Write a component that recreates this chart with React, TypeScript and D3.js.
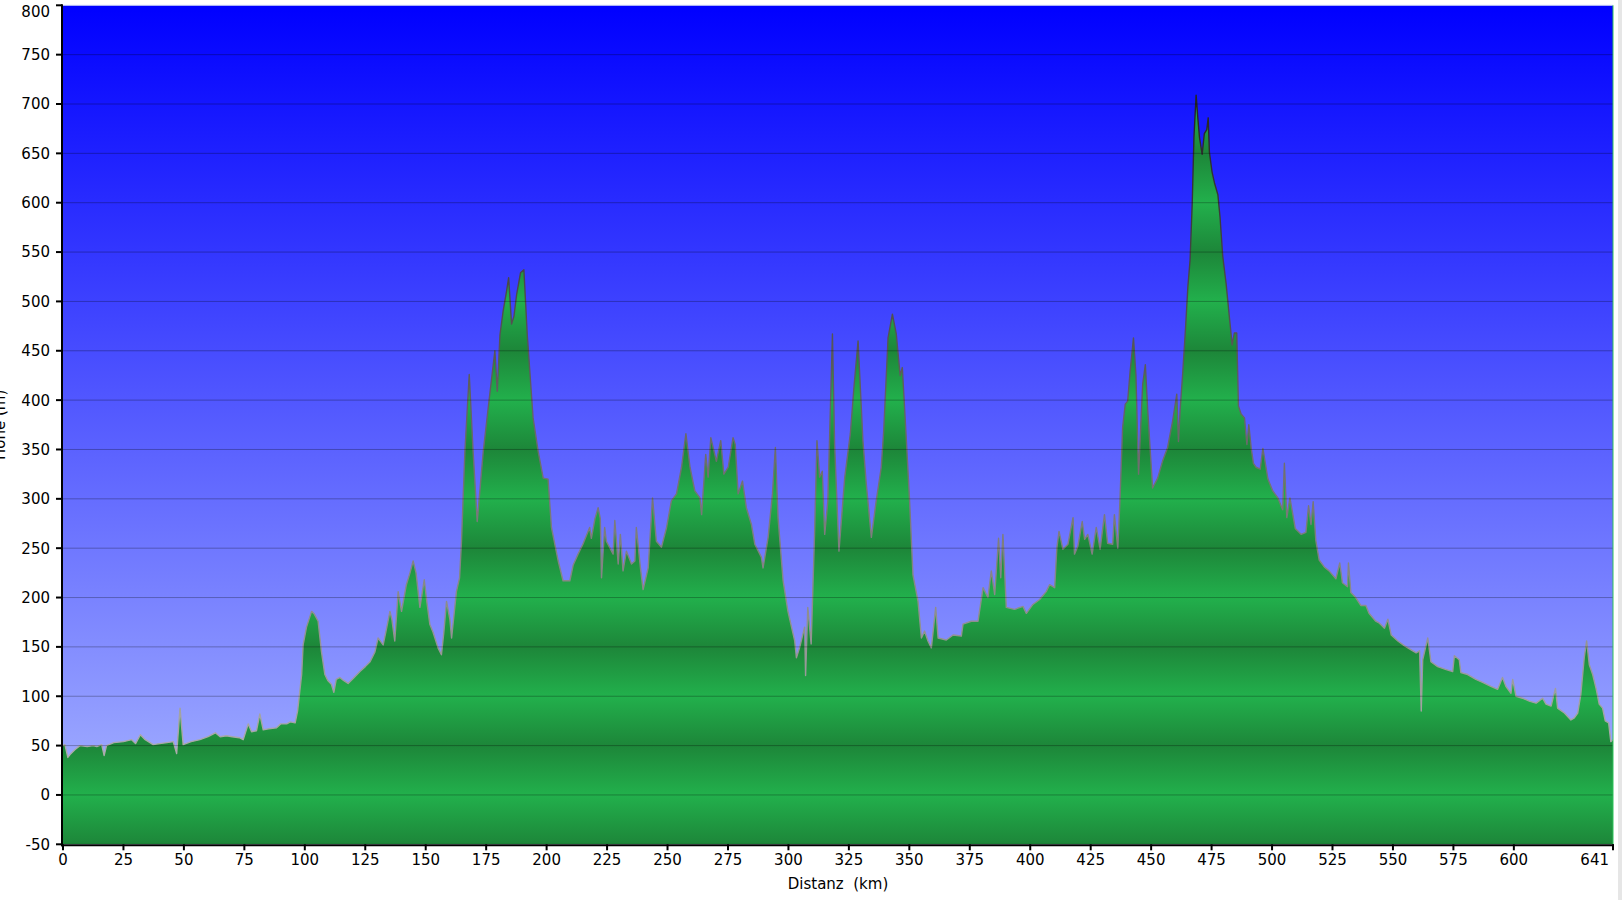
import React from "react";
import * as d3 from "d3";

const km: number[] = [
  0, 0.8, 2, 2.9, 5, 7, 10, 12.5, 14, 16, 17, 18, 21, 25, 28.4, 30, 32, 34, 37.3, 40, 43, 45.6, 47, 48.4, 49.7,
  53, 56.6, 60, 63, 65, 67.6, 70, 73, 74.5, 76.6, 78, 80, 81.4, 82.8, 85, 88.3, 90, 92.5, 94, 96, 97, 98.7, 99.3,
  100.7, 102.8, 104, 105.5, 106.9, 108.3, 109.5, 111, 112, 113, 114.5, 116, 117.9, 120, 122.8, 125, 127, 129, 130.3,
  132.4, 133.5, 135.2, 136, 137.2, 138.6, 140, 142, 143.5, 144.8, 146, 147.6, 149.4, 150.5, 151.7, 153, 155.1, 156.5,
  157.5, 158.6, 160, 160.7, 162.7, 164, 164.8, 166.2, 168, 169.6, 171.3, 173.8, 176.5, 178.6, 179.6, 180.7, 182,
  183.4, 184.3, 185.5, 186.5, 187.6, 189.2, 190.6, 192, 194.4, 196.5, 198.6, 200.6, 202, 204.8, 206.8, 209.6, 211,
  213, 215, 217.8, 218.5, 220, 221.3, 222.2, 222.7, 224, 224.7, 227.5, 228.2, 229.6, 230.5, 231.6, 233, 235.1, 236.5,
  237.1, 238.8, 239.9, 242, 243.8, 245.4, 247.5, 249.6, 251.6, 253.7, 255.8, 257.6, 259.3, 261.3, 263.4, 264.1,
  265.8, 266.8, 267.9, 270.2, 272, 273.3, 275.1, 277.1, 278, 279.2, 281, 282.6, 284.7, 286.1, 288.8, 289.5, 291.6,
  293.4, 294.6, 295.7, 297.8, 299.8, 302.6, 303.3, 304.6, 306.7, 307.1, 308, 309.4, 310.8, 311.8, 312.9, 314, 315,
  316.3, 318.2, 319.1, 320.9, 323.3, 325.6, 327.1, 328.8, 330.8, 332.2, 334.3, 336.3, 338.4, 339.4, 341.2, 343,
  344.6, 346.2, 347.1, 348.8, 350.1, 351.5, 353.6, 355, 356.3, 357.7, 359.1, 360.9, 361.9, 365.3, 368.1, 371.5,
  372.2, 375.6, 378.4, 380.5, 382.5, 383.9, 385.3, 386.9, 387.8, 388.7, 390.1, 393.5, 397, 398.4, 401.1, 403.9,
  406.6, 408, 410.1, 411, 411.9, 413.5, 415.6, 417.7, 418.3, 419.7, 421.5, 422.5, 423.8, 425.6, 427.3, 428.9, 430.7,
  432, 434.1, 434.8, 436.2, 437.1, 438.2, 439.3, 440.3, 441.3, 442.7, 443.7, 444.8, 446.5, 447.6, 448.6, 450.6,
  452.7, 454.7, 456.8, 458.9, 460.6, 461.3, 462, 463.1, 464.2, 465.2, 466.1, 467, 467.7, 468.6, 469.3, 470, 471.1,
  472, 473, 473.6, 474.1, 475.2, 476.2, 477.6, 478.5, 479.6, 481, 482.4, 483.5, 484.4, 485.4, 486.1, 487.2, 488.6,
  489.6, 490.4, 491.4, 492.3, 493.4, 495.1, 496.2, 498.3, 500.3, 502.4, 504.4, 505.1, 506.1, 507.4, 509.6, 512, 514,
  515.1, 516.1, 517, 518.1, 519.5, 521.6, 523.6, 525, 526.4, 528, 529.1, 531.2, 531.6, 532.6, 534.6, 536.7, 538.8,
  540.1, 542.9, 544.4, 546.5, 547.9, 549.3, 552, 554.8, 557.5, 559.6, 561, 561.7, 562.3, 564.4, 565.7, 568.5, 572,
  574.7, 575.4, 577.4, 578.1, 580.9, 584.3, 587.1, 590.5, 593.3, 595.3, 596.7, 598.8, 599.5, 600.9, 603.6, 606.4,
  609.2, 611.9, 613.3, 615.4, 617.2, 618.1, 620.9, 623.6, 625, 626.4, 627.7, 629.1, 630.1, 631.2, 632.6, 634, 635.3,
  636.7, 637.8, 639.2, 640.1, 641,
];

const elevation: number[] = [
  50, 51, 38, 41, 46, 50, 49, 50, 49, 51, 40, 50, 53, 54, 56, 52, 61, 56, 51, 52, 53, 54, 42, 88, 51,
  54, 56, 59, 63, 59, 60, 59, 58, 56, 72, 64, 65, 82, 66, 67, 68, 72, 72, 74, 73, 85, 122, 152,
  170, 186, 183, 176, 145, 122, 116, 112, 104, 117, 119, 116, 113, 118, 125, 130, 135, 145, 159,
  152, 165, 186, 178, 156, 206, 186, 213, 225, 237, 225, 190, 218, 195, 173, 165, 149, 142,
  165, 196, 178, 159, 206, 220, 257, 348, 426, 348, 277, 348, 406, 450, 409, 466, 490,
  510, 524, 477, 485, 507, 529, 532, 466, 382, 348, 321, 320, 271, 237, 217, 217, 233,
  244, 254, 271, 260, 280, 291, 280, 220, 271, 257, 244, 278, 234, 264, 227, 247, 234, 237,
  271, 230, 208, 230, 301, 257, 251, 271, 298, 305, 332, 366, 332, 308, 301, 284,
  345, 322, 362, 338, 359, 325, 332, 362, 355, 305, 318, 291, 274, 254, 241, 230, 261,
  305, 352, 281, 217, 186, 156, 139, 149, 170, 121, 190, 153, 264, 359, 322, 328, 264,
  298, 467, 355, 247, 322, 366, 413, 460, 359, 315, 261, 298, 332, 369, 463, 487,
  467, 425, 433, 358, 298, 223, 196, 159, 166, 156, 149, 190, 159, 157, 162, 161,
  173, 176, 176, 210, 200, 227, 203, 260, 220, 264, 190, 188, 191, 184, 193, 198,
  206, 213, 210, 250, 267, 249, 254, 281, 244, 252, 277, 259, 264, 244, 271, 249, 284,
  255, 254, 284, 250, 298, 372, 396, 399, 429, 463, 426, 325, 416, 436, 389, 311,
  321, 338, 352, 379, 406, 358, 390, 429, 472, 515, 542, 600, 666, 709, 686, 666, 649,
  670, 674, 686, 651, 631, 620, 608, 585, 546, 518, 483, 456, 468, 468, 394, 386, 382,
  355, 375, 351, 336, 332, 330, 351, 320, 308, 301, 289, 336, 281, 301, 270, 264, 266,
  293, 274, 297, 258, 238, 231, 227, 223, 219, 235, 215, 211, 235, 205, 200, 192, 192,
  184, 176, 174, 169, 178, 162, 156, 151, 147, 144, 146, 85, 137, 159, 135, 130, 127,
  125, 141, 137, 124, 122, 117, 114, 110, 107, 119, 110, 103, 117, 100, 98, 95,
  93, 98, 92, 90, 108, 88, 83, 76, 78, 83, 102, 139, 156, 132, 122, 108, 92,
  88, 75, 73, 54, 56,
];

const yTicks: number[] = [-50, 0, 50, 100, 150, 200, 250, 300, 350, 400, 450, 500, 550, 600, 650, 700, 750, 800];
const xTicks: number[] = [0, 25, 50, 75, 100, 125, 150, 175, 200, 225, 250, 275, 300, 325, 350, 375, 400, 425, 450, 475, 500, 525, 550, 575, 600, 641];
const xTitle = "Distanz  (km)";
const yTitle = "Höhe (m)";

const W = 1622;
const H = 900;
const L = 63;
const R = 1613;
const T = 5.3;
const B = 844.3;
const FONT = "Verdana, 'DejaVu Sans', sans-serif";

export default function App() {
  const x = d3.scaleLinear().domain([0, 641]).range([L, R]);
  const y = d3.scaleLinear().domain([-50, 800]).range([B, T]);
  const data = km.map((k, i) => [k, elevation[i]] as [number, number]);

  const area = d3
    .area<[number, number]>()
    .x((d) => x(d[0]))
    .y0(y(-50))
    .y1((d) => y(d[1]));
  const line = d3
    .line<[number, number]>()
    .x((d) => x(d[0]))
    .y((d) => y(d[1]));

  // green band stops: dark at odd multiples of 50, light at multiples of 100
  const bandStops: { off: number; color: string }[] = [];
  for (let v = 800; v >= -50; v -= 50) {
    const off = (800 - v) / 850;
    const dark = Math.abs(v / 50) % 2 === 1;
    bandStops.push({ off, color: dark ? "#1d8639" : "#22b04c" });
  }

  const lastTick = xTicks[xTicks.length - 1];

  return (
    <svg width={W} height={H} style={{ position: "absolute", left: 0, top: 0, background: "#fff" }}>
      <defs>
        <linearGradient id="bg" gradientUnits="userSpaceOnUse" x1={0} y1={y(800)} x2={0} y2={y(-50)}>
          <stop offset="0" stopColor="#0000ff" />
          <stop offset="1" stopColor="#acb9ff" />
        </linearGradient>
        <linearGradient id="green" gradientUnits="userSpaceOnUse" x1={0} y1={y(800)} x2={0} y2={y(-50)}>
          {bandStops.map((s, i) => (
            <stop key={i} offset={s.off} stopColor={s.color} />
          ))}
        </linearGradient>
        <linearGradient id="edge" gradientUnits="userSpaceOnUse" x1={0} y1={y(750)} x2={0} y2={y(0)}>
          <stop offset="0" stopColor="#1a1a1a" />
          <stop offset="0.5" stopColor="#666" />
          <stop offset="1" stopColor="#b4b4b4" />
        </linearGradient>
        <clipPath id="plotclip">
          <rect x={L} y={T} width={R - L} height={B - T} />
        </clipPath>
      </defs>

      <rect x={L} y={T} width={R - L} height={B - T} fill="url(#bg)" />
      <g clipPath="url(#plotclip)">
        <path d={area(data) || ""} fill="url(#green)" />
        <path d={line(data) || ""} fill="none" stroke="url(#edge)" strokeWidth={1.4} strokeLinejoin="round" />
        {yTicks.map((t) => (
          <line key={t} x1={L} x2={R} y1={y(t)} y2={y(t)} stroke="#000" strokeOpacity={0.28} strokeWidth={1} />
        ))}
      </g>
      <line x1={L} x2={R} y1={T} y2={T} stroke="#c8d0ff" strokeWidth={1} />
      <line x1={R} x2={R} y1={T} y2={B} stroke="#2fc25a" strokeWidth={1} />
      <rect x={1618} y={0} width={4} height={H} fill="#e6e6e6" />

      {/* y axis */}
      <line x1={L - 1} x2={L - 1} y1={T - 1} y2={B + 2} stroke="#000" strokeWidth={2} />
      {yTicks.map((t) => (
        <g key={t}>
          <line x1={L - 7} x2={L - 1} y1={y(t)} y2={y(t)} stroke="#000" strokeWidth={2} />
          <text
            x={50}
            y={t === 800 ? y(t) + 6 : y(t)}
            dy="0.36em"
            textAnchor="end"
            fontFamily={FONT}
            fontSize={15}
            fill="#000"
          >
            {t}
          </text>
        </g>
      ))}
      <text
        transform={`translate(5,${(T + B) / 2}) rotate(-90)`}
        textAnchor="middle"
        fontFamily={FONT}
        fontSize={15}
        fill="#000"
      >
        {yTitle}
      </text>

      {/* x axis */}
      <line x1={L - 2} x2={R + 1} y1={B + 1} y2={B + 1} stroke="#000" strokeWidth={2} />
      {xTicks.map((t) => (
        <g key={t}>
          <line x1={x(t)} x2={x(t)} y1={B} y2={B + 6} stroke="#000" strokeWidth={2} />
          <text
            x={t === lastTick ? x(t) - 4 : x(t)}
            y={865}
            textAnchor={t === lastTick ? "end" : "middle"}
            fontFamily={FONT}
            fontSize={15}
            fill="#000"
          >
            {t}
          </text>
        </g>
      ))}
      <text
        x={(L + R) / 2}
        y={889}
        textAnchor="middle"
        fontFamily={FONT}
        fontSize={15}
        fill="#000"
        style={{ whiteSpace: "pre" }}
      >
        {xTitle}
      </text>
    </svg>
  );
}
